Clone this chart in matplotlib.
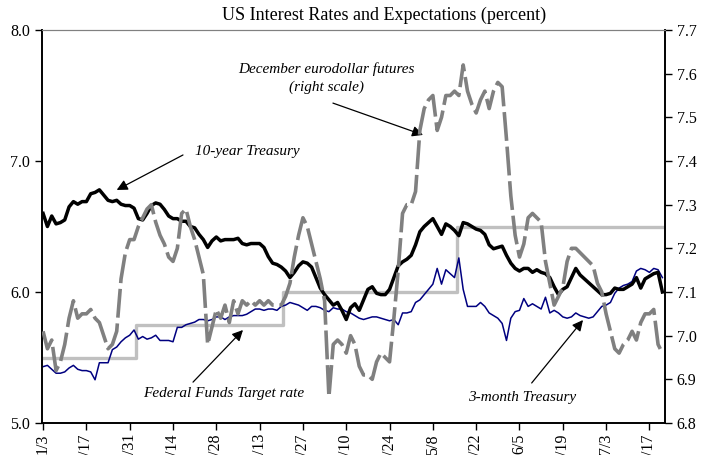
import matplotlib
matplotlib.use("Agg")
import matplotlib.pyplot as plt
import pandas as pd

plt.rcParams['font.family'] = ['Liberation Serif', 'DejaVu Serif']

# ---------------- data ----------------
start_date = "2000-01-03"
n_days = 144
tick_labels = ["1/3", "/17", "/31", "/14", "/28", "/13", "/27", "/10",
               "/24", "5/8", "/22", "6/5", "/19", "7/3", "/17"]

# 10-year Treasury (left scale)
treasury_10y = [
    6.60, 6.50, 6.58, 6.52, 6.53, 6.55, 6.65, 6.69, 6.67, 6.69,
    6.69, 6.75, 6.76, 6.78, 6.74, 6.70, 6.69, 6.70, 6.67, 6.66,
    6.66, 6.64, 6.56, 6.55, 6.60, 6.66, 6.68, 6.67, 6.63, 6.58,
    6.56, 6.56, 6.54, 6.54, 6.50, 6.49, 6.44, 6.40, 6.34, 6.39,
    6.42, 6.39, 6.40, 6.40, 6.40, 6.41, 6.37, 6.36, 6.37, 6.37,
    6.37, 6.34, 6.27, 6.22, 6.21, 6.19, 6.16, 6.11, 6.15, 6.20,
    6.23, 6.22, 6.19, 6.11, 6.03, 5.98, 5.94, 5.90, 5.92, 5.86,
    5.79, 5.88, 5.91, 5.86, 5.94, 6.02, 6.04, 5.99, 5.98, 5.98,
    6.02, 6.11, 6.20, 6.23, 6.25, 6.28, 6.36, 6.46, 6.50, 6.53,
    6.56, 6.50, 6.44, 6.52, 6.50, 6.47, 6.43, 6.53, 6.52, 6.50,
    6.48, 6.47, 6.44, 6.36, 6.33, 6.34, 6.35, 6.28, 6.22, 6.18,
    6.16, 6.18, 6.18, 6.15, 6.17, 6.15, 6.14, 6.11, 6.04, 5.98,
    6.02, 6.04, 6.11, 6.18, 6.13, 6.10, 6.07, 6.04, 6.01, 5.98,
    5.98, 5.99, 6.03, 6.02, 6.02, 6.04, 6.06, 6.11, 6.03, 6.10,
    6.12, 6.14, 6.15, 6.00,
]

# 3-month Treasury (left scale)
treasury_3m = [
    5.43, 5.44, 5.41, 5.38, 5.38, 5.39, 5.42, 5.44, 5.41, 5.40,
    5.40, 5.39, 5.33, 5.46, 5.46, 5.46, 5.56, 5.58, 5.62, 5.65,
    5.67, 5.71, 5.64, 5.66, 5.64, 5.65, 5.67, 5.63, 5.63, 5.63,
    5.62, 5.73, 5.73, 5.75, 5.76, 5.77, 5.79, 5.79, 5.78, 5.79,
    5.81, 5.81, 5.79, 5.81, 5.82, 5.82, 5.82, 5.83, 5.85, 5.87,
    5.87, 5.86, 5.87, 5.87, 5.86, 5.89, 5.90, 5.92, 5.91, 5.90,
    5.88, 5.86, 5.89, 5.89, 5.88, 5.86, 5.85, 5.88, 5.87, 5.87,
    5.85, 5.84, 5.82, 5.80, 5.79, 5.80, 5.81, 5.81, 5.80, 5.79,
    5.78, 5.79, 5.75, 5.84, 5.84, 5.85, 5.92, 5.94, 5.98, 6.02,
    6.06, 6.18, 6.06, 6.17, 6.14, 6.11, 6.26, 6.02, 5.89, 5.89,
    5.89, 5.92, 5.89, 5.84, 5.82, 5.80, 5.76, 5.63, 5.80, 5.85,
    5.86, 5.95, 5.89, 5.91, 5.89, 5.87, 5.96, 5.84, 5.86, 5.84,
    5.81, 5.80, 5.81, 5.84, 5.82, 5.81, 5.80, 5.81, 5.85, 5.89,
    5.90, 5.92, 5.99, 6.03, 6.05, 6.06, 6.08, 6.16, 6.18, 6.17,
    6.15, 6.18, 6.17, 6.11,
]

# December eurodollar futures (right scale)
eurodollar_dec = [
    7.01, 6.97, 6.99, 6.92, 6.94, 6.98, 7.04, 7.08, 7.04, 7.05,
    7.05, 7.06, 7.04, 7.03, 7.00, 6.97, 6.98, 7.01, 7.13, 7.19,
    7.22, 7.22, 7.25, 7.27, 7.29, 7.30, 7.26, 7.23, 7.21, 7.18,
    7.17, 7.20, 7.28, 7.29, 7.25, 7.22, 7.18, 7.14, 6.98, 7.02,
    7.06, 7.04, 7.07, 7.03, 7.08, 7.05, 7.08, 7.07, 7.08, 7.07,
    7.08, 7.07, 7.08, 7.07, 7.07, 7.07, 7.09, 7.12, 7.18, 7.23,
    7.27, 7.25, 7.21, 7.17, 7.13, 7.08, 6.86, 6.98, 6.99, 6.98,
    6.96, 7.00, 6.98, 6.93, 6.91, 6.91, 6.90, 6.94, 6.96, 6.95,
    6.94, 7.04, 7.15, 7.28, 7.30, 7.30, 7.33, 7.47, 7.52, 7.54,
    7.55, 7.47, 7.50, 7.55, 7.55, 7.56, 7.55, 7.62, 7.56, 7.53,
    7.51, 7.54, 7.56, 7.52, 7.56, 7.58, 7.57, 7.45, 7.32, 7.23,
    7.18, 7.21, 7.27, 7.28, 7.27, 7.26, 7.17, 7.12, 7.07, 7.09,
    7.11, 7.17, 7.20, 7.20, 7.19, 7.18, 7.17, 7.16, 7.12, 7.10,
    7.05, 7.01, 6.97, 6.96, 6.98, 6.99, 7.01, 6.99, 7.03, 7.05,
    7.05, 7.06, 6.98, 6.96,
]

# Federal Funds target: change dates and levels
fed_change_dates = ["2000-01-03", "2000-02-02", "2000-03-21", "2000-05-16"]
fed_levels = [5.50, 5.75, 6.00, 6.50]

# ---------------- build ----------------
dates = pd.bdate_range(start_date, periods=n_days)
pos = list(range(n_days))
fed_series = pd.Series(fed_levels, index=pd.to_datetime(fed_change_dates)).reindex(dates, method="ffill")

fig = plt.figure(figsize=(7.03, 4.55), dpi=100)
ax = fig.add_axes([42/703, 1-423/455, 623/703, 393/455])
ax2 = ax.twinx()

ax.plot(pos, fed_series.values, color="#c0c0c0", lw=2.4, drawstyle="steps-mid", zorder=2)
ax.plot(pos, treasury_3m, color="#000080", lw=1.1, zorder=3)
ax.plot(pos, treasury_10y, color="black", lw=2.5, zorder=4)
ax2.plot(pos, eurodollar_dec, color="#808080", lw=2.6, ls=(0, (8, 1.6)), zorder=3)

ax.set_xlim(-0.25, 143.6)
ax.set_ylim(5.0, 8.0)
ax2.set_ylim(6.8, 7.7)

ax.set_yticks([5.0, 6.0, 7.0, 8.0])
ax.set_yticklabels([f"{v:.1f}" for v in [5.0, 6.0, 7.0, 8.0]])
rticks = [6.8, 6.9, 7.0, 7.1, 7.2, 7.3, 7.4, 7.5, 7.6, 7.7]
ax2.set_yticks(rticks)
ax2.set_yticklabels([f"{v:.1f}" for v in rticks])

ax.set_xticks(list(range(0, 141, 10)))
ax.set_xticklabels(tick_labels, rotation=90)

for a in (ax, ax2):
    a.tick_params(direction="out", length=5, width=1, labelsize=11.5, colors="black")
ax.tick_params(axis="x", pad=3)

for s in ("left", "right", "bottom"):
    ax.spines[s].set_color("black")
    ax2.spines[s].set_color("black")
    ax.spines[s].set_linewidth(1.2)
    ax2.spines[s].set_linewidth(1.2)
ax.spines["top"].set_color("#808080")
ax2.spines["top"].set_color("#808080")

fig.text(384/703, 1-15/455, "US Interest Rates and Expectations (percent)",
         ha="center", va="center", fontsize=13)

ann = dict(fontsize=11, style="italic", ha="center", va="center")
arrow = dict(arrowstyle="-|>", color="black", lw=0.9, mutation_scale=16, shrinkA=0, shrinkB=0)

ax.text(0.456, 0.878, "December eurodollar futures\n(right scale)", transform=ax.transAxes,
        linespacing=1.5, **ann)
ax.annotate("", xy=(0.6116, 0.733), xytext=(0.467, 0.814), xycoords="axes fraction",
            textcoords="axes fraction", arrowprops=arrow)

ax.text(0.329, 0.690, "10-year Treasury", transform=ax.transAxes, **ann)
ax.annotate("", xy=(0.1199, 0.593), xytext=(0.2263, 0.682), xycoords="axes fraction",
            textcoords="axes fraction", arrowprops=arrow)

ax.text(0.292, 0.076, "Federal Funds Target rate", transform=ax.transAxes, **ann)
ax.annotate("", xy=(0.3226, 0.2366), xytext=(0.2424, 0.104), xycoords="axes fraction",
            textcoords="axes fraction", arrowprops=arrow)

ax.text(0.770, 0.064, "3-month Treasury", transform=ax.transAxes, **ann)
ax.annotate("", xy=(0.8684, 0.262), xytext=(0.786, 0.1018), xycoords="axes fraction",
            textcoords="axes fraction", arrowprops=arrow)

fig.savefig("out.png", dpi=100)
